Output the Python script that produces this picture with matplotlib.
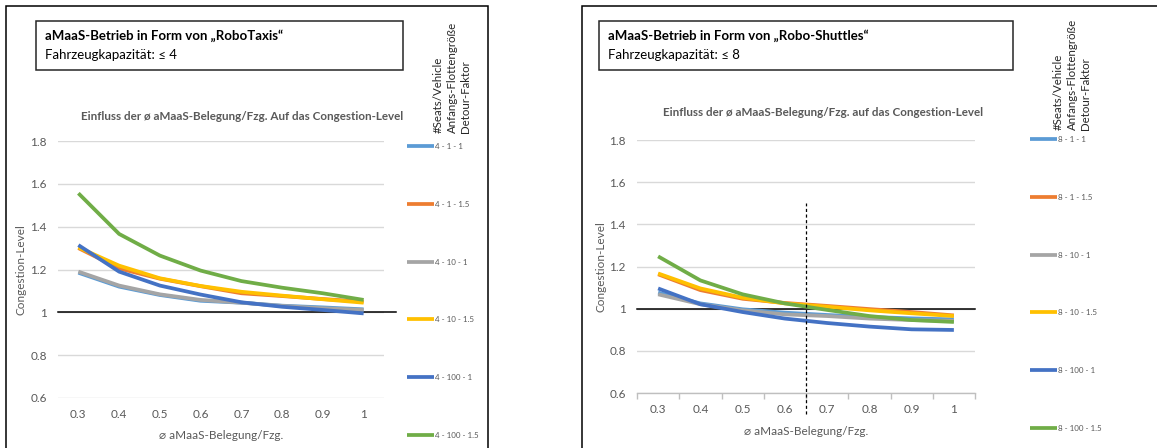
import matplotlib
matplotlib.use("Agg")
import matplotlib.pyplot as plt
from matplotlib.patches import Rectangle

plt.rcParams['font.family'] = ['Lato', 'DejaVu Sans']

W, H = 1157, 448

categories = ['0.3', '0.4', '0.5', '0.6', '0.7', '0.8', '0.9', '1']

taxi_labels = ['4 - 1 - 1', '4 - 1 - 1.5', '4 - 10 - 1', '4 - 10 - 1.5', '4 - 100 - 1', '4 - 100 - 1.5']
taxi_4_1_1 = [1.185, 1.120, 1.081, 1.054, 1.045, 1.031, 1.023, 1.014]
taxi_4_1_15 = [1.300, 1.205, 1.157, 1.122, 1.089, 1.076, 1.062, 1.050]
taxi_4_10_1 = [1.190, 1.125, 1.084, 1.058, 1.045, 1.030, 1.019, 1.011]
taxi_4_10_15 = [1.303, 1.218, 1.159, 1.123, 1.096, 1.078, 1.061, 1.045]
taxi_4_100_1 = [1.314, 1.190, 1.125, 1.083, 1.047, 1.026, 1.011, 0.995]
taxi_4_100_15 = [1.556, 1.366, 1.265, 1.195, 1.146, 1.115, 1.089, 1.058]

shuttle_labels = ['8 - 1 - 1', '8 - 1 - 1.5', '8 - 10 - 1', '8 - 10 - 1.5', '8 - 100 - 1', '8 - 100 - 1.5']
sh_8_1_1 = [1.076, 1.025, 0.997, 0.981, 0.970, 0.961, 0.954, 0.949]
sh_8_1_15 = [1.163, 1.088, 1.047, 1.027, 1.013, 0.998, 0.984, 0.968]
sh_8_10_1 = [1.068, 1.021, 0.992, 0.973, 0.965, 0.953, 0.946, 0.942]
sh_8_10_15 = [1.167, 1.096, 1.052, 1.025, 1.009, 0.992, 0.978, 0.965]
sh_8_100_1 = [1.096, 1.021, 0.984, 0.953, 0.932, 0.915, 0.902, 0.899]
sh_8_100_15 = [1.248, 1.134, 1.068, 1.025, 0.994, 0.965, 0.946, 0.937]

colors = ['#5B9BD5', '#ED7D31', '#A5A5A5', '#FFC000', '#4472C4', '#70AD47']
legend_title_lines = ["#Seats/Vehicle", "Anfangs-Flottengröße", "Detour-Faktor"]
GRAY = '#595959'

fig = plt.figure(figsize=(W / 100, H / 100), dpi=100)


def rect_px(x0, y0, x1, y1):
    return [x0 / W, 1 - y1 / H, (x1 - x0) / W, (y1 - y0) / H]


def fx(x):
    return x / W


def fy(y):
    return 1 - y / H


def panel(ax_px, series, labels, box, box_title, box_sub, chart_title, title_xy,
          ylabel_x, xlabel_y, leg_px, legtitle_xy, outer, hline_end, spine, dashed):
    fig.patches.append(Rectangle((fx(outer[0]), fy(outer[3])), fx(outer[2] - outer[0]),
                                 (outer[3] - outer[1]) / H, transform=fig.transFigure,
                                 fill=False, edgecolor='black', lw=1.1))
    fig.patches.append(Rectangle((fx(box[0]), fy(box[3])), fx(box[2] - box[0]),
                                 (box[3] - box[1]) / H, transform=fig.transFigure,
                                 fill=False, edgecolor='#262626', lw=1.1))
    fig.text(fx(box[0] + 9), fy(box[1] + 15), box_title, fontsize=9.5, fontweight='bold',
             va='center', ha='left', color='black')
    fig.text(fx(box[0] + 9), fy(box[1] + 34), box_sub, fontsize=9.5,
             va='center', ha='left', color='black')
    fig.text(fx(title_xy[0]), fy(title_xy[1]), chart_title, fontsize=8.4, fontweight='bold',
             va='center', ha='center', color=GRAY)

    ax = fig.add_axes(rect_px(*ax_px))
    x = list(range(len(categories)))
    for vals, lab, c in zip(series, labels, colors):
        ax.plot(x, vals, color=c, lw=2.7, label=lab, solid_capstyle='butt', zorder=3)
    ax.set_xlim(-0.5, len(categories) - 0.5)
    ax.set_ylim(0.6, 1.8)
    ax.set_yticks([0.6, 0.8, 1.0, 1.2, 1.4, 1.6, 1.8])
    ax.set_yticklabels(['0.6', '0.8', '1', '1.2', '1.4', '1.6', '1.8'])
    ax.set_xticks(x)
    ax.set_xticklabels(categories)
    ax.grid(axis='y', color='#D9D9D9', lw=1)
    ax.set_axisbelow(True)
    for s in ['top', 'right', 'left']:
        ax.spines[s].set_visible(False)
    if spine:
        ax.spines['bottom'].set_color('#BFBFBF')
        ax.spines['bottom'].set_linewidth(1)
        ax.set_xticks([i - 0.5 for i in range(len(categories) + 1)], minor=True)
        ax.tick_params(axis='x', which='minor', length=4, color='#BFBFBF', width=1)
    else:
        ax.spines['bottom'].set_visible(False)
    ax.tick_params(axis='x', which='major', length=0, labelsize=8.5, labelcolor=GRAY, pad=8)
    ax.tick_params(axis='y', length=0, labelsize=8.5, labelcolor=GRAY, pad=8)
    ax.plot([-0.5, hline_end], [1, 1], color='black', lw=1.1, clip_on=False, zorder=2)
    if dashed is not None:
        ax.plot([dashed, dashed], [0.5, 1.5], color='black', lw=0.9, ls=(0, (2.5, 2)),
                clip_on=False, zorder=4)
    fig.text(fx(ylabel_x), fy((ax_px[1] + ax_px[3]) / 2), 'Congestion-Level', rotation=90,
             fontsize=8.5, color=GRAY, va='center', ha='center')
    fig.text(fx((ax_px[0] + ax_px[2]) / 2), fy(xlabel_y), '⌀ aMaaS-Belegung/Fzg.',
             fontsize=8.5, color=GRAY, va='center', ha='center')

    leg = ax.legend(loc='upper left', bbox_to_anchor=(fx(leg_px[0]), fy(leg_px[1])),
                    bbox_transform=fig.transFigure, frameon=False, fontsize=5.8,
                    handlelength=3.3, handletextpad=0.15, labelspacing=6.3,
                    borderpad=0, borderaxespad=0)
    for t in leg.get_texts():
        t.set_color(GRAY)
    for l in leg.get_lines():
        l.set_linewidth(2.7)
    for i, line in enumerate(legend_title_lines):
        fig.text(fx(legtitle_xy[0] + 14 * i), fy(legtitle_xy[1]), line, rotation=90,
                 fontsize=8.3, color='#262626', va='bottom', ha='center')
    return ax


panel((58, 141, 384, 398),
      [taxi_4_1_1, taxi_4_1_15, taxi_4_10_1, taxi_4_10_15, taxi_4_100_1, taxi_4_100_15],
      taxi_labels, (36, 21, 403, 70),
      'aMaaS-Betrieb in Form von „RoboTaxis“', 'Fahrzeugkapazität: ≤ 4',
      'Einfluss der ø aMaaS-Belegung/Fzg. Auf das Congestion-Level', (242, 116),
      21, 435, (407, 143), (438, 133), (6, 6, 488, 460), 7.79, False, None)

panel((637, 140, 975, 393),
      [sh_8_1_1, sh_8_1_15, sh_8_10_1, sh_8_10_15, sh_8_100_1, sh_8_100_15],
      shuttle_labels, (599, 21, 1013, 70),
      'aMaaS-Betrieb in Form von „Robo-Shuttles“', 'Fahrzeugkapazität: ≤ 8',
      'Einfluss der ø aMaaS-Belegung/Fzg. auf das Congestion-Level', (823, 112),
      601, 431, (1030, 136), (1058, 130), (582, 6, 1170, 460), 7.5, True, 3.5)

fig.savefig('out.png', dpi=100)
